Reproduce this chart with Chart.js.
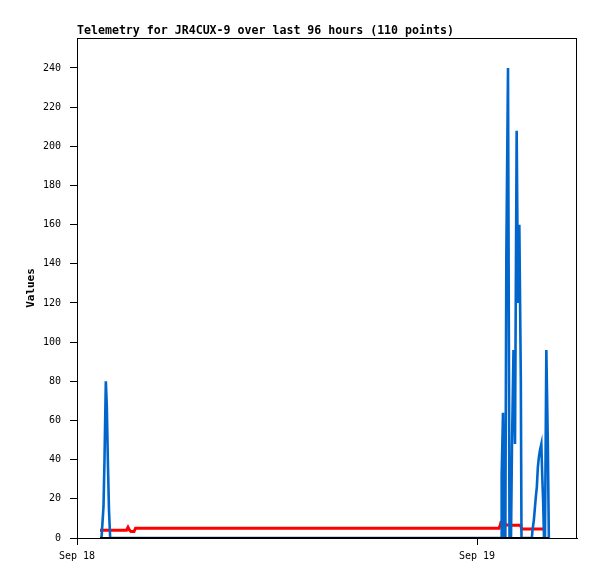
<!DOCTYPE html>
<html>
<head>
<meta charset="utf-8">
<script src="https://cdn.jsdelivr.net/npm/chart.js@4.4.0/dist/chart.umd.min.js"></script>
<style>
    html, body { margin: 0; padding: 0; background: #fff; }
    #wrap { width: 597px; height: 579px; }
</style>
</head>
<body>
<div id="wrap"><canvas id="telemetry" width="597" height="579"></canvas></div>
<script>
const TITLE = 'Telemetry for JR4CUX-9 over last 96 hours (110 points)';

// hours since Sep 18 00:00
const HOURS = [
    1.38, 1.47, 1.53, 1.59, 1.65, 1.73, 1.79, 1.85, 1.92, 1.99,
    2.58, 2.97, 3.06, 3.15, 3.24, 3.42, 3.51, 3.60,
    25.32, 25.40, 25.44, 25.48, 25.56, 25.64, 25.70, 25.76, 25.86, 25.95,
    26.04, 26.10, 26.19, 26.28, 26.38, 26.46, 26.54, 26.63, 26.67, 26.72,
    27.29, 27.33, 27.41, 27.47, 27.53, 27.59, 27.65, 27.71, 27.78, 27.86,
    27.91, 27.97, 28.02, 28.08, 28.16, 28.25, 28.31
];

const CH_BLUE = [
    0, 0, 8, 16, 40, 80, 67, 40, 14, 0,
    0, 0, 0, 0, 0, 0, 0, 0,
    0, 0, 0, 32, 64, 0, 0, 144, 240, 0,
    0, 48, 96, 48, 208, 120, 160, 80, 0, 0,
    0, 4, 9, 15, 21, 26, 36, 41, 45, 48,
    33, 18, 0, 0, 96, 48, 0
];

const CH_RED = [
    4, 4, 4, 4, 4, 4, 4, 4, 4, 4,
    4, 4, 5.5, 4, 3.3, 3.3, 5, 5,
    5, 6.6, 8, 8, 8, 8, 7, 6.6, 6.6, 6.6,
    6.6, 6.5, 6.5, 6.5, 6.5, 6.5, 6.5, 6.5, 4.6, 4.6,
    4.6, 4.6, 4.6, 4.6, 4.6, 4.6, 4.6, 4.6, 4.6, 4.6,
    4.6, 4.6, 4.6, 4.6, null, null, null
];

const CH_BLACK = [
    0, 0, 0, 0, 0, 0, 0, 0, 0, 0,
    0, 0, 0, 0, 0, 0, 0, 0,
    0, 0, 0, 0, 0, 0, 0, 0, 0, 0,
    0, 0, 0, 0, 0, 0, 0, 0, 0, 0,
    0, 0, 0, 0, 0, 0, 0, 0, 0, 0,
    0, 0, 0, 0, 0, 0, 0
];

const Y_TICKS = [0, 20, 40, 60, 80, 100, 120, 140, 160, 180, 200, 220, 240];
const X_TICKS = [0, 24];
const X_LABELS = ['Sep 18', 'Sep 19'];

const MONO = '"DejaVu Sans Mono", "Liberation Mono", monospace';

function toPoints(values) {
    return HOURS.map((h, i) => ({ x: h, y: values[i] }));
}

function lineSet(label, values, color, width, order) {
    return {
        label,
        data: toPoints(values),
        borderColor: color,
        backgroundColor: color,
        borderWidth: width,
        pointRadius: 0,
        tension: 0,
        spanGaps: false,
        order
    };
}

const framePlugin = {
    id: 'frame',
    afterDraw(chart) {
        const { ctx, chartArea: a } = chart;
        ctx.save();
        ctx.strokeStyle = '#000';
        ctx.lineWidth = 1;
        ctx.strokeRect(a.left + 0.5, a.top + 0.5, a.right - a.left - 1, a.bottom - a.top);
        ctx.fillStyle = '#000';
        ctx.font = 'bold 11.6px ' + MONO;
        ctx.textBaseline = 'alphabetic';
        ctx.textAlign = 'left';
        ctx.fillText(TITLE, a.left, 33.5);
        ctx.restore();
    }
};

new Chart(document.getElementById('telemetry'), {
    type: 'line',
    data: {
        datasets: [
            lineSet('zero', CH_BLACK, '#000000', 2, 0),
            lineSet('ch1', CH_BLUE, '#0066cc', 2.6, 1),
            lineSet('ch2', CH_RED, '#ff0000', 3, 2)
        ]
    },
    options: {
        responsive: false,
        animation: false,
        layout: { padding: { top: 38, right: 20, left: 0, bottom: 0 } },
        plugins: {
            legend: { display: false },
            tooltip: { enabled: false },
            title: { display: false }
        },
        scales: {
            x: {
                type: 'linear',
                min: 0,
                max: 30,
                afterBuildTicks(scale) {
                    scale.ticks = X_TICKS.map(v => ({ value: v }));
                },
                afterFit(scale) {
                    scale.height = 41;
                },
                ticks: {
                    autoSkip: false,
                    maxRotation: 0,
                    padding: 5,
                    color: '#000',
                    font: { family: MONO, size: 10 },
                    callback(value) {
                        const i = X_TICKS.indexOf(value);
                        return i >= 0 ? X_LABELS[i] : '';
                    }
                },
                grid: { drawOnChartArea: false, drawTicks: true, tickLength: 7, color: '#000' },
                border: { color: '#000' }
            },
            y: {
                type: 'linear',
                min: 0,
                max: 255.3,
                afterBuildTicks(scale) {
                    scale.ticks = Y_TICKS.map(v => ({ value: v }));
                },
                afterFit(scale) {
                    scale.width = 77;
                },
                ticks: {
                    padding: 9,
                    color: '#000',
                    font: { family: MONO, size: 10 }
                },
                title: {
                    display: true,
                    text: 'Values',
                    color: '#000',
                    font: { family: MONO, size: 11, weight: 'bold' },
                    padding: { top: 25, bottom: 0 }
                },
                grid: { drawOnChartArea: false, drawTicks: true, tickLength: 7, color: '#000' },
                border: { color: '#000' }
            }
        }
    },
    plugins: [framePlugin]
});
</script>
</body>
</html>
